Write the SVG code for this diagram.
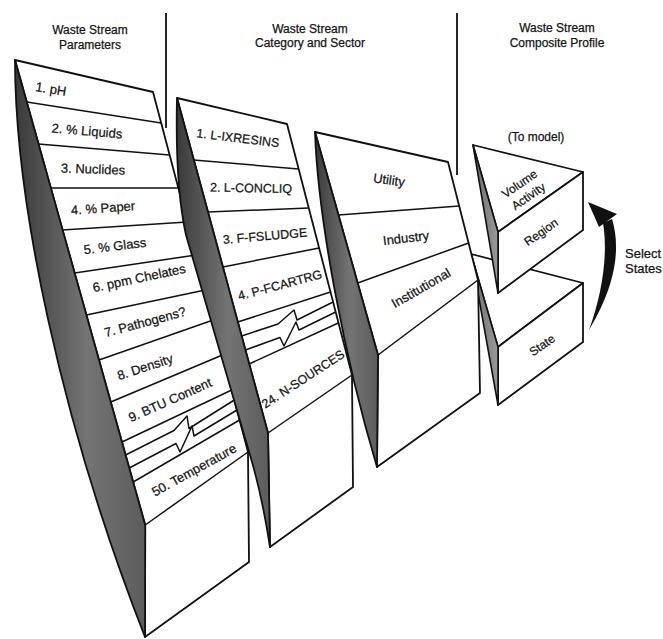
<svg xmlns="http://www.w3.org/2000/svg" width="663" height="639" viewBox="0 0 663 639">
<defs>
<linearGradient id="shade" x1="0" y1="0" x2="1" y2="0">
<stop offset="0" stop-color="#3a3a3a"/>
<stop offset="0.55" stop-color="#747474"/>
<stop offset="1" stop-color="#5c5c5c"/>
</linearGradient>
<linearGradient id="shadeL" x1="0" y1="0" x2="1" y2="0">
<stop offset="0" stop-color="#6a6a6a"/>
<stop offset="1" stop-color="#9a9a9a"/>
</linearGradient>
</defs>
<style>
.face{fill:#fff;stroke:#111;stroke-width:1.8;stroke-linejoin:round}
.dark{fill:url(#shade);stroke:#111;stroke-width:1.8;stroke-linejoin:round}
.darkl{fill:url(#shadeL);stroke:#111;stroke-width:1.6;stroke-linejoin:round}
.row{fill:none;stroke:#111;stroke-width:1.5;stroke-linejoin:round}
.div{stroke:#111;stroke-width:1.8}
text{font-family:"Liberation Sans",Arial,Helvetica,sans-serif;fill:#151515;stroke:#151515;stroke-width:0.25}
.hd{font-size:12px;text-anchor:middle}
.l1{font-size:13px;text-anchor:middle}
.l2{font-size:12.5px;text-anchor:middle}
.l4{font-size:12px;text-anchor:middle}
.sel{font-size:13px}
</style>
<rect width="663" height="639" fill="#fff"/>

<g id="dividers">
<line class="div" x1="166" y1="13" x2="166" y2="128"/>
<line class="div" x1="457" y1="13" x2="457" y2="175"/>
</g>

<g id="headers">
<text class="hd" x="90" y="34">Waste Stream</text>
<text class="hd" x="90" y="49">Parameters</text>
<text class="hd" x="310" y="33">Waste Stream</text>
<text class="hd" x="310" y="47">Category and Sector</text>
<text class="hd" x="557" y="32">Waste Stream</text>
<text class="hd" x="557" y="47">Composite Profile</text>
</g>

<g id="parameters">
<polygon class="face" points="15,60 153,92 248,452 249,562 145,637 145.2,525"/>
<path class="dark" d="M15,60 L145.2,525 L145,637 C60,420 15,200 15,60 Z"/>
<line class="row" x1="26.8" y1="102" x2="161.2" y2="123"/>
<line class="row" x1="38.5" y1="144" x2="169.6" y2="155"/>
<line class="row" x1="50.8" y1="188" x2="178.3" y2="188"/>
<line class="row" x1="62.6" y1="230" x2="187.3" y2="222"/>
<line class="row" x1="74.6" y1="273" x2="196" y2="255"/>
<line class="row" x1="86.4" y1="315" x2="205.3" y2="290"/>
<line class="row" x1="99" y1="360" x2="213.2" y2="320"/>
<line class="row" x1="110.8" y1="402" x2="222.4" y2="355"/>
<line class="row" x1="122" y1="442" x2="231.7" y2="390"/>
<polyline class="row" points="125.6,455 174,430.5 187,416 189,428.5 234.3,400"/>
<polyline class="row" points="129.2,468 176,443.5 180,452 192,426 194,436 237,410"/>
<line class="row" x1="133.2" y1="482" x2="239.6" y2="420"/>
<line class="row" x1="145.2" y1="525" x2="248" y2="452"/>
<text class="l1" transform="translate(51,89) rotate(9)" y="4.5">1. pH</text>
<text class="l1" transform="translate(87,131) rotate(5)" y="4.5">2. % Liquids</text>
<text class="l1" transform="translate(93,169) rotate(2)" y="4.5">3. Nuclides</text>
<text class="l1" transform="translate(103,208) rotate(-4)" y="4.5">4. % Paper</text>
<text class="l1" transform="translate(115,246) rotate(-7)" y="4.5">5. % Glass</text>
<text class="l1" transform="translate(139,278) rotate(-12)" y="4.5">6. ppm Chelates</text>
<text class="l1" transform="translate(145,322) rotate(-15)" y="4.5">7. Pathogens?</text>
<text class="l1" transform="translate(145,367) rotate(-18)" y="4.5">8. Density</text>
<text class="l1" transform="translate(170,400) rotate(-24)" y="4.5">9. BTU Content</text>
<text class="l1" transform="translate(194,470) rotate(-29)" y="4.5">50. Temperature</text>
</g>

<g id="category">
<polygon class="face" points="177,98 287,124 352,375 353,487 270,547 268,433"/>
<path class="dark" d="M177,98 L268,433 L270,547 Q262,495 250,455 L186,235 Q175,185 177,98 Z"/>
<line class="row" x1="193.8" y1="160" x2="298.7" y2="169"/>
<line class="row" x1="208" y1="212" x2="308.8" y2="208"/>
<line class="row" x1="222.9" y1="267" x2="319.1" y2="248"/>
<line class="row" x1="237.8" y1="322" x2="330.5" y2="292"/>
<polyline class="row" points="241.6,336 278,324 294,310 297,320 333.1,302"/>
<polyline class="row" points="245.4,350 280,337.5 284,346 296,322 299,330 335.7,312"/>
<line class="row" x1="249.2" y1="364" x2="338.3" y2="323"/>
<line class="row" x1="268" y1="433" x2="352" y2="375"/>
<text class="l2" transform="translate(238,138) rotate(7)" y="4.3">1. L-IXRESINS</text>
<text class="l2" transform="translate(251,188) rotate(1)" y="4.3">2. L-CONCLIQ</text>
<text class="l2" transform="translate(265,236) rotate(-5)" y="4.3">3. F-FSLUDGE</text>
<text class="l2" transform="translate(280,285) rotate(-15)" y="4.3">4. P-FCARTRG</text>
<text class="l2" transform="translate(303,379) rotate(-33)" y="4.3">24. N-SOURCES</text>
</g>

<g id="state">
<polygon class="face" points="471,254 583,283 498,347"/>
<polygon class="face" points="498,347 583,283 583,342 498,405"/>
<polygon class="darkl" points="471,254 498,347 498,405"/>
<text class="l4" transform="translate(542,345) rotate(-35)" y="4.2">State</text>
</g>

<g id="sector">
<polygon class="face" points="315,132 448,162 478,280 480,393 377,467 378,355"/>
<path class="dark" d="M315,132 L378,355 L377,467 C345,360 318,220 315,132 Z"/>
<line class="row" x1="338.4" y1="215" x2="459.2" y2="206"/>
<line class="row" x1="357.7" y1="283" x2="468.6" y2="243"/>
<line class="row" x1="378" y1="355" x2="478" y2="280"/>
<text class="l1" transform="translate(389,180) rotate(8)" y="4.5">Utility</text>
<text class="l1" transform="translate(406,238) rotate(-7)" y="4.5">Industry</text>
<text class="l1" transform="translate(421,288) rotate(-30)" y="4.5">Institutional</text>
</g>

<g id="region">
<polygon class="face" points="473,145 583,172 498,232"/>
<polygon class="face" points="498,232 583,172 583,230 498,293"/>
<polygon class="darkl" points="473,145 498,232 498,293"/>
<g transform="translate(524,190) rotate(-35)">
<text class="l4" y="-3.6">Volume</text>
<text class="l4" y="11.8">Activity</text>
</g>
<text class="l4" transform="translate(541,232) rotate(-35)" y="4.2">Region</text>
</g>

<g id="labels">
<text class="l4" x="536" y="141">(To model)</text>
<text class="sel" x="625" y="258">Select</text>
<text class="sel" x="625" y="273">States</text>
</g>

<g id="connectors">
<path d="M612,219 C620,245 618,282 589,330 C603,292 608,252 603,223 Z" fill="#111"/>
<polygon points="588,202 599,227 617,214" fill="#111"/>
</g>
</svg>
